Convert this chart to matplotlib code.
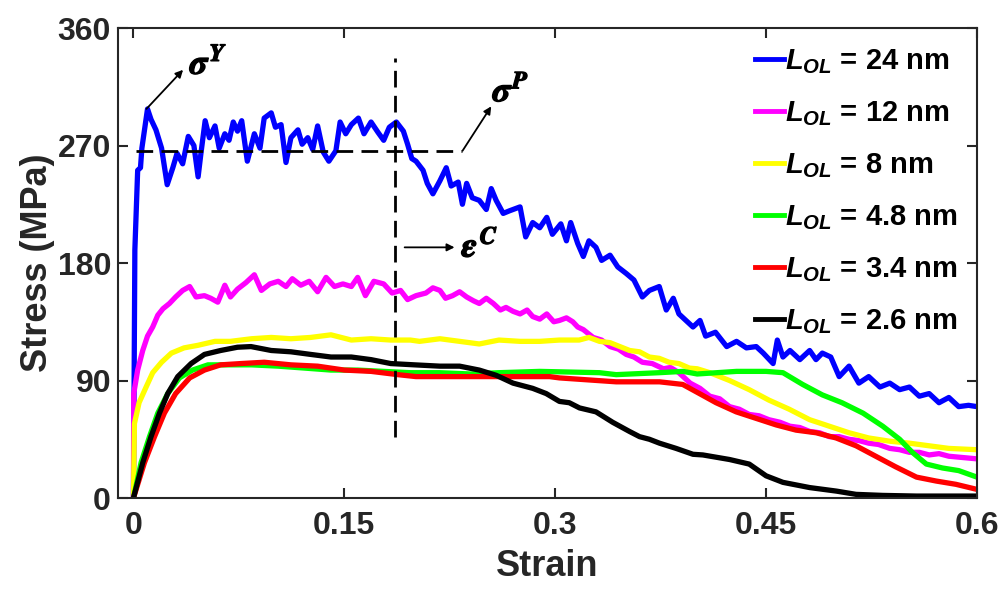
import matplotlib
matplotlib.use('Agg')
import matplotlib.pyplot as plt
import matplotlib.patheffects as pe
import numpy as np

plt.rcParams['font.family'] = ['Liberation Sans', 'DejaVu Sans']
plt.rcParams['font.weight'] = 'bold'
plt.rcParams['mathtext.fontset'] = 'custom'
plt.rcParams['mathtext.it'] = 'Liberation Sans:italic:bold'
plt.rcParams['mathtext.rm'] = 'Liberation Sans:bold'
plt.rcParams['mathtext.bf'] = 'Liberation Sans:bold'

# (strain, stress in MPa) for each overlayer thickness
blue_24 = [(0, 0), (0.001, 190), (0.003, 251), (0.005, 253), (0.006, 268), (0.010, 298),
           (0.0125, 290), (0.016, 282), (0.020, 268), (0.024, 240), (0.028, 253), (0.031, 264),
           (0.035, 256), (0.039, 277), (0.043, 270), (0.046, 246), (0.048, 264), (0.051, 289),
           (0.054, 276), (0.058, 285), (0.061, 268), (0.065, 279), (0.068, 274), (0.071, 288),
           (0.074, 281), (0.077, 289), (0.081, 258), (0.086, 279), (0.090, 268), (0.093, 291),
           (0.098, 295), (0.101, 284), (0.105, 286), (0.1085, 257), (0.112, 276), (0.117, 282),
           (0.120, 271), (0.124, 276), (0.1275, 267), (0.131, 285), (0.135, 265), (0.139, 258),
           (0.144, 266), (0.147, 288), (0.151, 279), (0.155, 286), (0.160, 291), (0.164, 279),
           (0.169, 288), (0.174, 280), (0.178, 274), (0.182, 284), (0.187, 288), (0.192, 281),
           (0.195, 271), (0.198, 260), (0.201, 258), (0.206, 251), (0.209, 241), (0.213, 233),
           (0.218, 243), (0.2225, 253), (0.226, 239), (0.231, 242), (0.234, 225), (0.237, 241),
           (0.241, 230), (0.246, 228), (0.251, 221), (0.2545, 237), (0.258, 228), (0.263, 218),
           (0.2675, 220), (0.275, 223), (0.279, 200), (0.284, 211), (0.289, 207), (0.294, 215),
           (0.298, 202), (0.304, 210), (0.308, 197), (0.311, 211), (0.316, 195), (0.320, 185),
           (0.324, 197), (0.329, 192), (0.333, 182), (0.339, 186), (0.3445, 177), (0.3505, 172),
           (0.356, 167), (0.362, 154), (0.367, 159), (0.374, 162), (0.379, 144), (0.384, 153),
           (0.388, 141), (0.393, 136), (0.398, 131), (0.403, 136), (0.407, 124), (0.414, 127),
           (0.422, 116), (0.429, 120), (0.436, 115), (0.443, 116), (0.448, 111), (0.455, 103),
           (0.458, 121), (0.462, 108), (0.467, 113), (0.474, 106), (0.481, 113), (0.4855, 106),
           (0.490, 111), (0.496, 108), (0.502, 93), (0.509, 101), (0.516, 88), (0.523, 93),
           (0.531, 85), (0.538, 88), (0.545, 83), (0.552, 85), (0.559, 78), (0.566, 80),
           (0.573, 73), (0.580, 77), (0.587, 70), (0.594, 71), (0.6, 70)]

magenta_12 = [(0, 0), (0.0002, 80), (0.003, 98), (0.0066, 113), (0.010, 124), (0.0137, 131),
              (0.0173, 140), (0.021, 145), (0.0256, 149), (0.030, 154), (0.035, 159), (0.040, 162),
              (0.0445, 154), (0.0505, 155), (0.055, 153), (0.060, 150), (0.065, 163), (0.069, 154),
              (0.074, 160), (0.080, 165), (0.086, 171), (0.091, 159), (0.097, 164), (0.103, 166),
              (0.1085, 162), (0.113, 168), (0.119, 163), (0.125, 166), (0.131, 158), (0.137, 169),
              (0.143, 162), (0.149, 164), (0.155, 162), (0.1595, 169), (0.165, 155), (0.171, 166),
              (0.178, 164), (0.184, 157), (0.190, 159), (0.195, 152), (0.201, 155), (0.208, 157),
              (0.213, 161), (0.218, 159), (0.222, 153), (0.227, 155), (0.232, 158), (0.237, 154),
              (0.242, 151), (0.246, 149), (0.251, 153), (0.256, 149), (0.261, 144), (0.265, 146),
              (0.270, 143), (0.275, 141), (0.280, 144), (0.284, 139), (0.289, 137), (0.294, 141),
              (0.299, 135), (0.303, 136), (0.308, 138), (0.3125, 135), (0.316, 131), (0.320, 129),
              (0.327, 123), (0.333, 121), (0.339, 116), (0.345, 114), (0.3505, 110), (0.356, 108),
              (0.362, 104), (0.369, 103), (0.377, 99), (0.382, 100), (0.388, 96), (0.396, 88),
              (0.403, 84), (0.410, 78), (0.417, 76), (0.424, 70), (0.431, 68), (0.438, 64),
              (0.445, 63), (0.452, 60), (0.460, 58), (0.467, 55), (0.474, 54), (0.481, 51),
              (0.488, 50), (0.495, 47), (0.502, 47), (0.509, 45), (0.516, 44), (0.523, 42),
              (0.530, 41), (0.538, 38), (0.545, 37), (0.552, 35), (0.559, 35), (0.566, 33),
              (0.573, 34), (0.580, 32), (0.590, 31), (0.6, 30)]

yellow_8 = [(0, 0), (0.0007, 57), (0.004, 73), (0.009, 85), (0.0137, 96), (0.020, 104),
            (0.027, 111), (0.036, 115), (0.046, 117), (0.058, 120), (0.069, 120), (0.084, 122),
            (0.098, 123), (0.112, 122), (0.126, 123), (0.1405, 125), (0.155, 121), (0.169, 122),
            (0.183, 121), (0.197, 121), (0.2035, 120), (0.218, 122), (0.232, 120), (0.246, 118),
            (0.260, 121), (0.275, 120), (0.289, 120), (0.303, 121), (0.317, 121), (0.324, 123),
            (0.3315, 120), (0.339, 119), (0.346, 116), (0.353, 113), (0.360, 112), (0.367, 108),
            (0.374, 107), (0.381, 104), (0.388, 103), (0.3955, 99.5), (0.401, 99), (0.410, 96),
            (0.424, 90), (0.438, 83), (0.452, 75), (0.4665, 68), (0.481, 60), (0.495, 55),
            (0.509, 50), (0.523, 46), (0.538, 43.5), (0.552, 42), (0.566, 40), (0.580, 38),
            (0.6, 37)]

green_4p8 = [(0, 0), (0.0054, 27), (0.0114, 47), (0.0173, 65), (0.0244, 80), (0.0327, 92),
             (0.042, 98), (0.053, 102), (0.067, 102), (0.084, 102), (0.103, 101), (0.122, 99.5),
             (0.1405, 98), (0.1595, 98), (0.178, 97), (0.197, 96), (0.2175, 96), (0.240, 95),
             (0.260, 96), (0.289, 97), (0.3315, 96), (0.3434, 94.5), (0.374, 96), (0.391, 97),
             (0.401, 95), (0.429, 97), (0.450, 97), (0.462, 96), (0.476, 87), (0.490, 79),
             (0.504, 73), (0.519, 65), (0.533, 55), (0.545, 45), (0.554, 35), (0.564, 26),
             (0.5755, 23), (0.587, 21), (0.6, 16)]

red_3p4 = [(0, 0), (0.0078, 27), (0.015, 47), (0.022, 65), (0.030, 80), (0.040, 92),
           (0.0505, 98), (0.062, 102), (0.0765, 103), (0.093, 104), (0.112, 102), (0.131, 101),
           (0.150, 98), (0.169, 97), (0.188, 94.5), (0.201, 93), (0.218, 93), (0.260, 93),
           (0.296, 93), (0.303, 92), (0.3434, 89), (0.3742, 89), (0.3907, 87), (0.4026, 80),
           (0.4144, 73), (0.4287, 66), (0.4429, 61), (0.4571, 56), (0.4713, 52), (0.4855, 50),
           (0.4998, 46), (0.514, 40), (0.528, 32), (0.542, 24), (0.557, 16), (0.571, 13),
           (0.585, 10.5), (0.6, 6.6)]

black_2p6 = [(0, 0), (0.0066, 27), (0.0125, 47), (0.0185, 65), (0.0244, 80), (0.0315, 93),
             (0.041, 103), (0.0505, 110), (0.062, 113), (0.074, 115.5), (0.0836, 116), (0.098, 113),
             (0.112, 112), (0.126, 110), (0.1405, 108), (0.155, 108), (0.169, 106), (0.183, 103),
             (0.200, 102), (0.218, 101), (0.232, 101), (0.246, 98), (0.258, 94), (0.270, 88),
             (0.284, 84), (0.2936, 80), (0.303, 74), (0.310, 73), (0.3173, 69), (0.329, 66),
             (0.3409, 58), (0.3528, 51), (0.360, 47), (0.367, 45), (0.3742, 42), (0.386, 38),
             (0.398, 33.5), (0.405, 33), (0.424, 29.5), (0.438, 26), (0.450, 17), (0.462, 12),
             (0.481, 8), (0.500, 5.3), (0.514, 2.8), (0.533, 2), (0.557, 1.5), (0.6, 1.5)]

curves = [blue_24, magenta_12, yellow_8, green_4p8, red_3p4, black_2p6]
colors = ['#0000ff', '#ff00ff', '#ffff00', '#00ff00', '#ff0000', '#000000']
thickness = ['24', '12', '8', '4.8', '3.4', '2.6']

x_ticks = [0, 0.15, 0.3, 0.45, 0.6]
x_ticklabels = ['0', '0.15', '0.3', '0.45', '0.6']
y_ticks = [0, 90, 180, 270, 360]
y_ticklabels = ['0', '90', '180', '270', '360']

# guide lines: plateau stress level and critical strain
plateau_stress = 266
plateau_x = (0.002, 0.234)
crit_strain = 0.186
crit_y = (47, 337)

fig = plt.figure(figsize=(10.05, 5.9), dpi=100)
ax = fig.add_axes([0.1174, 0.1559, 0.8547, 0.7966])

for data, c, t in zip(curves, colors, thickness):
    arr = np.array(data)
    ax.plot(arr[:, 0], arr[:, 1], color=c, lw=3.8, label=r'$L_{OL}$ = ' + t + ' nm',
            solid_joinstyle='round')

ax.plot(plateau_x, [plateau_stress, plateau_stress], color='k', lw=2, dashes=(6, 3), zorder=5)
ax.plot([crit_strain, crit_strain], crit_y, color='k', lw=2, dashes=(6, 3), zorder=5)

arrow = dict(arrowstyle='-|>', color='k', lw=1.3, mutation_scale=11, shrinkA=0, shrinkB=0)
ax.annotate('', xy=(0.0353, 328), xytext=(0.0092, 298), arrowprops=arrow, zorder=6)
ax.annotate('', xy=(0.2545, 300), xytext=(0.2341, 266), arrowprops=arrow, zorder=6)
ax.annotate('', xy=(0.2284, 192), xytext=(0.1929, 192), arrowprops=arrow, zorder=6)

bold = [pe.withStroke(linewidth=1.0, foreground='k')]
ax.text(0.040, 325, r'$σ^{Y}$', math_fontfamily='stix', fontsize=25, path_effects=bold)
ax.text(0.2555, 304, r'$σ^{P}$', math_fontfamily='stix', fontsize=25, path_effects=bold)
ax.text(0.2335, 185, r'$ε^{C}$', math_fontfamily='stix', fontsize=25, path_effects=bold)

ax.set_xlim(-0.011, 0.6)
ax.set_ylim(0, 360)
ax.set_xticks(x_ticks)
ax.set_xticklabels(x_ticklabels)
ax.set_yticks(y_ticks)
ax.set_yticklabels(y_ticklabels)
ax.tick_params(direction='in', top=True, right=True, length=7, width=1.5,
               labelsize=23, colors='#262626')
ax.tick_params(axis='x', pad=9)
ax.tick_params(axis='y', pad=5)
for s in ax.spines.values():
    s.set_linewidth(1.5)
    s.set_color('#262626')

ax.set_xlabel('Strain', fontsize=26, fontweight='bold', color='#262626', labelpad=6)
ax.set_ylabel('Stress (MPa)', fontsize=26, fontweight='bold', color='#262626', labelpad=2)

leg = ax.legend(loc='upper right', frameon=False, fontsize=21, handlelength=1.0,
                handletextpad=0.05, labelspacing=0.8, borderaxespad=0.25)
for line in leg.get_lines():
    line.set_linewidth(3.5)

fig.savefig('out.png', dpi=100)
